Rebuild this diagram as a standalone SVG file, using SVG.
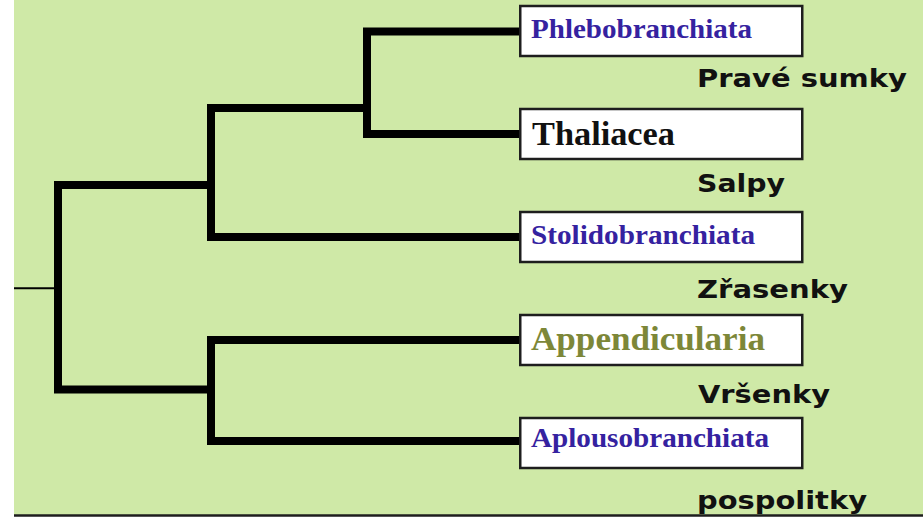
<svg xmlns="http://www.w3.org/2000/svg" width="923" height="518" viewBox="0 0 923 518">
<style>
.bg{fill:#cfe9a7}
.box{fill:#ffffff;stroke:#1e1e1e;stroke-width:2.5}
.tree{fill:none;stroke:#000;stroke-width:8;stroke-linecap:square;stroke-linejoin:miter}
.t{font-family:"Liberation Serif","Times New Roman",serif;font-weight:bold}
.blue{fill:#3522a0;font-size:28px}
.lbl{font-family:"DejaVu Sans",Verdana,sans-serif;font-weight:bold;font-size:25px;fill:#111}
</style>
<rect class="bg" x="14" y="0" width="909" height="515"/>
<line x1="14" y1="515.5" x2="923" y2="515.5" stroke="#1e1e1e" stroke-width="2.5"/>
<g id="connectors">
<line x1="14" y1="288.3" x2="58" y2="288.3" stroke="#000" stroke-width="2"/>
<path class="tree" d="M211 389.5 H58 V185 H211"/>
<path class="tree" d="M367 108 H211 V237 H516"/>
<path class="tree" d="M516 31.5 H367 V134 H516"/>
<path class="tree" d="M516 340 H211 V441 H516"/>
</g>
<g id="n-phlebo">
<rect class="box" x="520.25" y="6" width="282" height="50"/>
<text class="t blue" x="531" y="38" textLength="221" lengthAdjust="spacingAndGlyphs">Phlebobranchiata</text>
</g>
<g id="n-thaliacea">
<rect class="box" x="520.25" y="109" width="282" height="50"/>
<text class="t" x="532" y="145" font-size="34" fill="#111" textLength="143" lengthAdjust="spacingAndGlyphs">Thaliacea</text>
</g>
<g id="n-stolido">
<rect class="box" x="520.25" y="212" width="282" height="50"/>
<text class="t blue" x="531" y="243.5" textLength="224" lengthAdjust="spacingAndGlyphs">Stolidobranchiata</text>
</g>
<g id="n-append">
<rect class="box" x="520.25" y="315" width="282" height="50"/>
<text class="t" x="531" y="350" font-size="34" fill="#7d8738" textLength="234" lengthAdjust="spacingAndGlyphs">Appendicularia</text>
</g>
<g id="n-aplouso">
<rect class="box" x="520.25" y="418" width="282" height="50"/>
<text class="t blue" x="531" y="447" textLength="238" lengthAdjust="spacingAndGlyphs">Aplousobranchiata</text>
</g>
<g id="labels">
<text class="lbl" x="697" y="87" textLength="210" lengthAdjust="spacingAndGlyphs">Pravé sumky</text>
<text class="lbl" x="697" y="192" textLength="88" lengthAdjust="spacingAndGlyphs">Salpy</text>
<text class="lbl" x="697" y="298" textLength="151" lengthAdjust="spacingAndGlyphs">Zřasenky</text>
<text class="lbl" x="698" y="403" textLength="132" lengthAdjust="spacingAndGlyphs">Vršenky</text>
<text class="lbl" x="697" y="509" textLength="170" lengthAdjust="spacingAndGlyphs">pospolitky</text>
</g>
</svg>
